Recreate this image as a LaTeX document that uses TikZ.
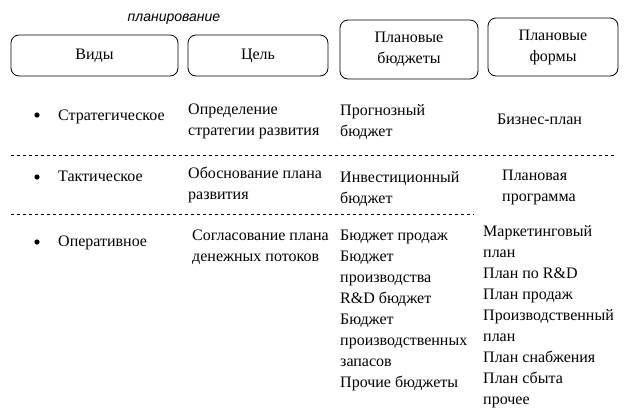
\documentclass[tikz,border=0pt]{standalone}
\usepackage{fontspec}
\setmainfont{Liberation Serif}
\newfontfamily\serifrm{Liberation Serif}
\newfontfamily\sansit{Liberation Sans}
\begin{document}
\begin{tikzpicture}[x=1pt,y=-1pt,
  hbox/.style={draw,rounded corners=8pt,line width=0.8pt},
  txt/.style={anchor=north west,inner sep=0pt,align=left,font=\serifrm\fontsize{16}{21}\selectfont},
  ctxt/.style={inner sep=0pt,align=center,font=\serifrm\fontsize{16}{21}\selectfont},
  sep/.style={dashed,line width=0.6pt}]
\useasboundingbox (0,0) rectangle (630,413);
\node[inner sep=0pt,font=\sansit\itshape\fontsize{14}{16}\selectfont] (pl) at (174,19) {планирование};
\draw[hbox] (11,35) rectangle (178,76); \node[ctxt] (b1) at (94.5,55.5) {Виды};
\draw[hbox] (188,35) rectangle (328,76); \node[ctxt] (b2) at (258,55.5) {Цель};
\draw[hbox] (340,20) rectangle (478,79); \node[ctxt] (b3) at (409,49.5) {Плановые\\бюджеты};
\draw[hbox] (488,18) rectangle (618,76); \node[ctxt] (b4) at (553,47) {Плановые\\формы};
\foreach \y/\n in {115/a,177/b,242/c} \fill (37,\y) circle (2.6);
\node[txt] (s1) at (58,110) {Стратегическое};
\node[txt] (g1) at (188,104) {Определение\\стратегии развития};
\node[txt] (u1) at (340,104) {Прогнозный\\бюджет};
\node[txt] (f1) at (497,114) {Бизнес-план};
\draw[sep] (11,155) -- (614,155);
\node[txt] (s2) at (58,171) {Тактическое};
\node[txt] (g2) at (188,167) {Обоснование плана\\развития};
\node[txt] (u2) at (340,171) {Инвестиционный\\бюджет};
\node[txt] (f2) at (502,170) {Плановая\\программа};
\draw[sep] (11,214) -- (474,214);
\node[txt] (s3) at (58,236) {Оперативное};
\node[txt] (g3) at (192,230) {Согласование плана\\денежных потоков};
\node[txt] (u3) at (340,230) {Бюджет продаж\\Бюджет\\производства\\R\&D бюджет\\Бюджет\\производственных\\запасов\\Прочие бюджеты};
\node[txt] (f3) at (483,225) {Маркетинговый\\план\\План по R\&D\\План продаж\\Производственный\\план\\План снабжения\\План сбыта\\прочее};
\end{tikzpicture}
\end{document}
